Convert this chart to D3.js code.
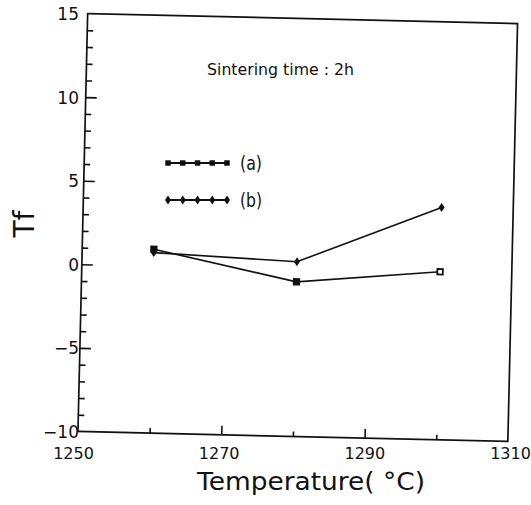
<!DOCTYPE html>
<html>
<head>
<meta charset="utf-8">
<script src="https://cdn.jsdelivr.net/npm/d3@7"></script>
<style>
  body { margin: 0; background: #fff; }
  svg { display: block; }
  text { font-family: "DejaVu Sans", sans-serif; fill: #111; }
</style>
</head>
<body>
<div id="chart"></div>
<script>
// values
var temps = [1260, 1280, 1300];
var seriesA = [1.0, -0.75, 0.05];
var seriesB = [0.8, 0.45, 3.9];
var xTickLabels = [1250, 1270, 1290, 1310];
var xMajor = [1270, 1290];
var xMinor = [1260, 1280, 1300];
var yTickLabels = [-10, -5, 0, 5, 10, 15];
var yMinor = d3.range(-9, 15).filter(function(v){ return v % 5 !== 0; });
var legendNames = ["(a)", "(b)"];

var W = 531, H = 505;
var boxL = 82.75, boxR = 512.75, boxT = 18.5, boxB = 436.5;

var svg = d3.select("#chart").append("svg")
    .attr("width", W)
    .attr("height", H);

var x = d3.scaleLinear().domain([1250, 1310]).range([boxL, boxR]);
var y = d3.scaleLinear().domain([-10, 15]).range([boxB, boxT]);

// the scan is slightly tilted, so the plot box is drawn rotated
var plot = svg.append("g")
    .attr("transform", "rotate(1.33," + (boxL + boxR) / 2 + "," + (boxT + boxB) / 2 + ")");

plot.append("rect")
    .attr("x", boxL).attr("y", boxT)
    .attr("width", boxR - boxL).attr("height", boxB - boxT)
    .attr("fill", "none").attr("stroke", "#111").attr("stroke-width", 1.7);

function ticks(axis, tr) {
    var g = plot.append("g").attr("transform", tr).call(axis);
    g.select(".domain").remove();
    g.selectAll("text").remove();
    g.selectAll("line").attr("stroke", "#111").attr("stroke-width", 1.6);
}
ticks(d3.axisRight(y).tickValues([-5, 0, 5, 10]).tickSize(11), "translate(" + boxL + ",0)");
ticks(d3.axisRight(y).tickValues(yMinor).tickSize(6), "translate(" + boxL + ",0)");
ticks(d3.axisTop(x).tickValues(xMajor).tickSize(9), "translate(0," + boxB + ")");
ticks(d3.axisTop(x).tickValues(xMinor).tickSize(5), "translate(0," + boxB + ")");

var line = d3.line()
    .x(function(d, i){ return x(temps[i]); })
    .y(function(d){ return y(d); });

plot.append("path").datum(seriesA).attr("d", line)
    .attr("fill", "none").attr("stroke", "#111").attr("stroke-width", 1.6);
plot.append("path").datum(seriesB).attr("d", line)
    .attr("fill", "none").attr("stroke", "#111").attr("stroke-width", 1.6);

var square = d3.symbol().type(d3.symbolSquare).size(30);
var diamond = "M0,-4.5L3,0L0,4.5L-3,0Z";

plot.selectAll(".ma").data(seriesA).enter().append("path")
    .attr("d", square)
    .attr("transform", function(d, i){ return "translate(" + x(temps[i]) + "," + y(d) + ")"; })
    .attr("fill", function(d, i){ return i === 2 ? "#fff" : "#111"; })
    .attr("stroke", "#111").attr("stroke-width", 1.8);
plot.selectAll(".mb").data(seriesB).enter().append("path")
    .attr("d", diamond)
    .attr("transform", function(d, i){ return "translate(" + x(temps[i]) + "," + y(d) + ")"; })
    .attr("fill", "#111");

// tick labels are set straight on the page in the scan
var xLab = d3.scaleLinear().domain([1250, 1310]).range([73, 510]);
var yLab = d3.scaleLinear().domain([-10, 15]).range([432, 14]);

var gx = svg.append("g").attr("transform", "translate(0,445)")
    .call(d3.axisBottom(xLab).tickValues(xTickLabels).tickSize(0).tickFormat(d3.format("d")));
gx.select(".domain").remove();
gx.selectAll("text").attr("font-size", 16).attr("font-family", "DejaVu Sans").attr("fill", "#111");

var gy = svg.append("g").attr("transform", "translate(79,0)")
    .call(d3.axisLeft(yLab).tickValues(yTickLabels).tickSize(0).tickPadding(0));
gy.select(".domain").remove();
gy.selectAll("text").attr("font-size", 17).attr("font-family", "DejaVu Sans").attr("fill", "#111");

svg.append("text")
    .attr("x", 311).attr("y", 490)
    .attr("text-anchor", "middle")
    .attr("font-size", 25)
    .attr("textLength", 228).attr("lengthAdjust", "spacingAndGlyphs")
    .text("Temperature( °C)");

svg.append("text")
    .attr("transform", "translate(34,224) rotate(-90)")
    .attr("text-anchor", "middle")
    .attr("font-size", 28)
    .text("Tf");

svg.append("text")
    .attr("x", 207).attr("y", 75)
    .attr("font-size", 16)
    .attr("textLength", 147).attr("lengthAdjust", "spacingAndGlyphs")
    .text("Sintering time : 2h");

// legend
var legY = [163, 200];
var legX = d3.scaleLinear().domain([0, 4]).range([168, 227]);
legendNames.forEach(function(name, k) {
    var g = svg.append("g");
    g.append("line")
        .attr("x1", legX(0)).attr("x2", legX(4))
        .attr("y1", legY[k]).attr("y2", legY[k])
        .attr("stroke", "#111").attr("stroke-width", 1.8);
    g.selectAll("path").data(d3.range(5)).enter().append("path")
        .attr("d", k === 0 ? square : diamond)
        .attr("transform", function(d){ return "translate(" + legX(d) + "," + legY[k] + ")"; })
        .attr("fill", "#111");
    g.append("text")
        .attr("x", 240).attr("y", legY[k] + 7)
        .attr("font-size", 19)
        .attr("textLength", 22).attr("lengthAdjust", "spacingAndGlyphs")
        .text(name);
});
</script>
</body>
</html>
